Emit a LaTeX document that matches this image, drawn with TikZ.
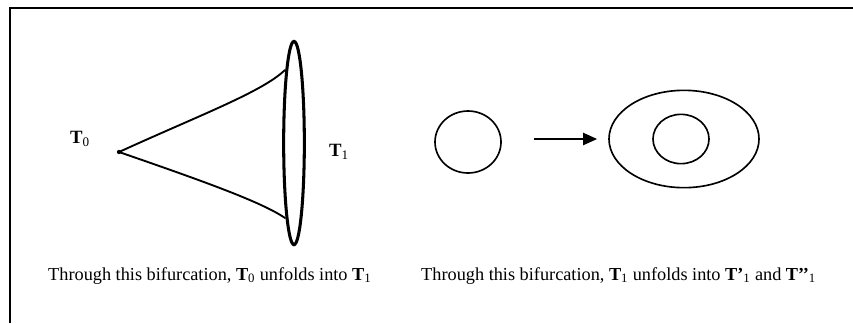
\documentclass[tikz,border=0pt]{standalone}
\usepackage{fontspec}
\setmainfont{Liberation Serif}
\usetikzlibrary{arrows.meta,positioning,shapes.geometric}

\begin{document}
\begin{tikzpicture}[
    x=0.03cm, y=-0.03cm,
    ring/.style={ellipse, draw, line width=1.4pt, inner sep=0pt},
    torus/.style={ellipse, draw, line width=2.6pt, inner sep=0pt, minimum width=0.62cm, minimum height=6.1cm},
    tname/.style={font=\fontsize{16}{18}\selectfont, inner sep=0pt},
    caption/.style={font=\fontsize{15.6}{18}\selectfont, inner sep=0pt, anchor=base west},
    flow/.style={line width=1.6pt, line cap=round}
]
    \useasboundingbox (0,0) rectangle (853,323);

    % Frame
    \draw[line width=2pt] (10,323) -- (10,8) -- (853,8);

    % Left: the cone from T0 to T1
    \node[circle, fill, inner sep=1.3pt] (t0dot) at (119,152) {};
    \node[torus] (t1ring) at (294,143) {};
    \coordinate (t1top) at (285,70);
    \coordinate (t1bot) at (285,218);
    \draw[flow] (t0dot.center) .. controls (200,115) and (262,92) .. (t1top);
    \draw[flow] (t0dot.center) .. controls (200,180) and (262,202) .. (t1bot);

    \node[tname] (t0) at (80,139) {\textbf{T}\textsubscript{0}};
    \node[tname] (t1) at (339,152) {\textbf{T}\textsubscript{1}};

    % Right: T1 splits into T'1 and T''1
    \node[ring, minimum width=1.98cm, minimum height=1.86cm] (c0) at (468,142) {};
    \node[ring, minimum width=4.5cm, minimum height=2.92cm] (e1) at (684,139) {};
    \node[ring, minimum width=1.68cm, minimum height=1.48cm] (e2) at (681,139) {};
    \draw[line width=1.8pt, -{Triangle[length=0.42cm, width=0.36cm]},
          shorten <=0.96cm, shorten >=0.33cm] (c0.east |- e1.west) -- (e1.west);

    % Captions
    \node[caption] (cap0) at (48,280)
        {Through this bifurcation, \textbf{T}\textsubscript{0} unfolds into \textbf{T}\textsubscript{1}};
    \node[caption] (cap1) at (421,280)
        {Through this bifurcation, \textbf{T}\textsubscript{1} unfolds into \textbf{T’}\textsubscript{1} and \textbf{T’’}\textsubscript{1}};
\end{tikzpicture}
\end{document}
